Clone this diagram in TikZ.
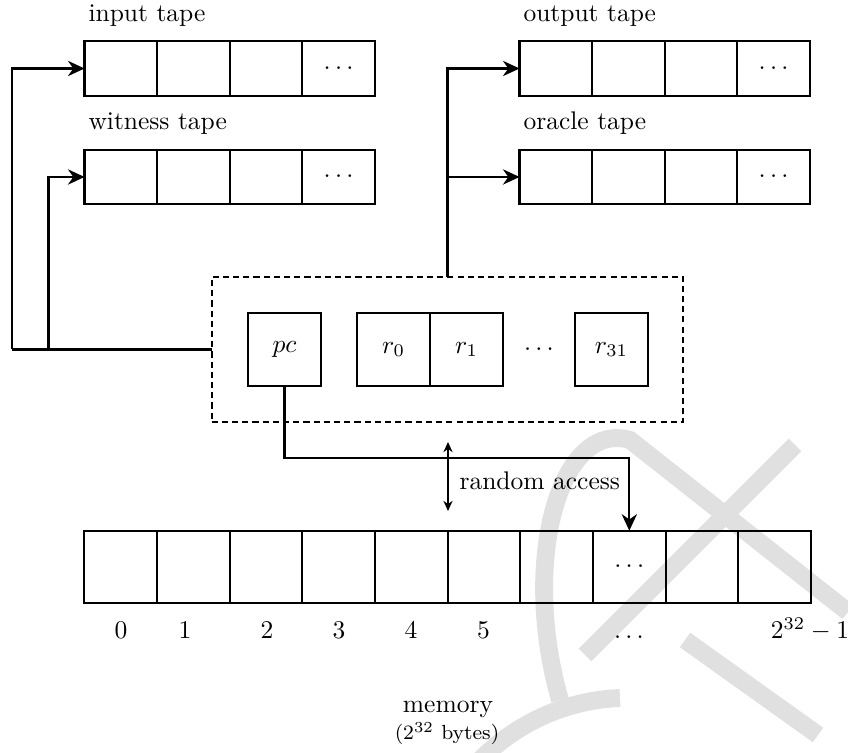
\documentclass[tikz,border=0pt]{standalone}
\usetikzlibrary{arrows.meta}
\begin{document}
\begin{tikzpicture}[x=0.013774cm,y=-0.013774cm,
  cell/.style={draw,thick,minimum width=1cm,minimum height=0.75cm,inner sep=0pt,outer sep=0pt},
  mcell/.style={cell,minimum height=1cm},
  reg/.style={draw,thick,minimum width=1cm,minimum height=1cm,inner sep=0pt,outer sep=0pt},
  regbox/.style={draw,thick,dash pattern=on 2.4pt off 1.6pt,minimum width=6.5cm,minimum height=2cm,inner sep=0pt,outer sep=0pt},
  lab/.style={anchor=base west,inner sep=0pt},
  idx/.style={anchor=base,inner sep=0pt},
  line/.style={thick},
  conn/.style={thick,-{Stealth[length=6.5pt,width=6pt]}},
  dbl/.style={thick,{Stealth[length=4pt,width=3.6pt]}-{Stealth[length=4pt,width=3.6pt]}},
  wm/.style={line width=7pt,black!12}
]
\useasboundingbox (0,0) rectangle (848,753);

% faint watermark
\draw[wm] (560,700) .. controls (520,560) and (560,420) .. (630,440) -- (848,612);
\draw[wm] (795,445) -- (585,655);
\draw[wm] (685,640) -- (818,735);
\draw[wm] (480,760) .. controls (520,720) and (570,700) .. (620,698);

% tapes
\foreach \n/\x/\y in {in/84.5/68.5, wit/84.5/177, out/519.5/68.5, orc/519.5/177}{
  \foreach \i in {1,2,3}{\node[cell] (\n\i) at ({\x+72.6*(\i-0.5)},\y) {};}
  \node[cell] (\n4) at ({\x+72.6*3.5},\y) {$\cdots$};
}
\node[lab] (inlab)  at (88,21.5)  {input tape};
\node[lab] (witlab) at (88,129.5) {witness tape};
\node[lab] (outlab) at (523,21.5) {output tape};
\node[lab] (orclab) at (523,129.5) {oracle tape};

% registers
\node[regbox] (regs) at (447.5,349.5) {};
\node[reg] (pc)  at (284.5,349.5) {$pc$};
\node[reg] (r0)  at (393.5,349.5) {$r_0$};
\node[reg] (r1)  at (466.5,349.5) {$r_1$};
\node (rdots) at (539,349.5) {$\cdots$};
\node[reg] (r31) at (611.5,349.5) {$r_{31}$};

% memory
\foreach \i in {1,2,3,4,5,6,7,9,10}{\node[mcell] (m\i) at ({84.3+72.67*(\i-0.5)},567) {};}
\node[mcell] (m8) at ({84.3+72.67*7.5},567) {$\cdots$};

\node[idx] (i0) at (121,638.5) {0};
\node[idx] (i1) at (185,638.5) {1};
\node[idx] (i2) at (267,638.5) {2};
\node[idx] (i3) at (339,638.5) {3};
\node[idx] (i4) at (411,638.5) {4};
\node[idx] (i5) at (483.5,638.5) {5};
\node[idx] (idots) at (629,638.5) {$\ldots$};
\node[idx] (ilast) at (810,638.5) {$2^{32}-1$};

\node[idx] (memlab) at (448,713) {memory};
\node[idx,font=\footnotesize] (bytes) at (447,740) {($2^{32}$ bytes)};

% connectors
\coordinate (j1) at (12,349.5);
\coordinate (j2) at (48.5,349.5);
\draw[line] (regs.west) -- (j1);
\draw[conn] (j1) |- (in1.west);
\draw[conn] (j2) |- (wit1.west);
\draw[conn] (regs.north) |- (out1.west);
\draw[conn] (regs.north) |- (orc1.west);
\draw[conn] (pc.south) -- ++(0,72) -| (m8.north);

\coordinate (ra1) at (448,442);
\coordinate (ra2) at (448,511);
\draw[dbl] (ra1) -- (ra2);
\node[lab] (ralab) at (459,490) {random access};
\end{tikzpicture}
\end{document}
